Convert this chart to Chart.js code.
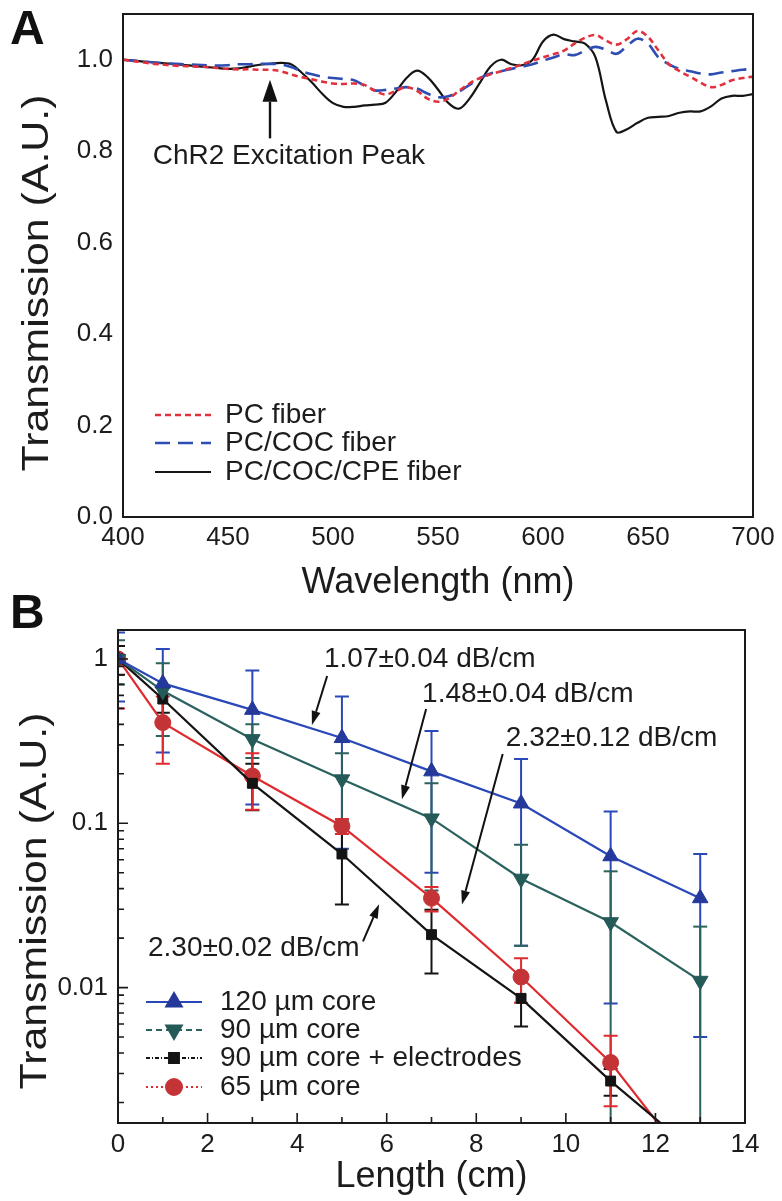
<!DOCTYPE html>
<html>
<head>
<meta charset="utf-8">
<script src="https://cdn.jsdelivr.net/npm/chart.js@4.4.1/dist/chart.umd.min.js"></script>
<style>
  html, body { margin:0; padding:0; background:#ffffff; width:782px; height:1201px; overflow:hidden; }
  canvas { position:absolute; left:0; }
  #cA { top:0; }
  #cB { top:590px; }
</style>
</head>
<body>
<canvas id="cA" width="782" height="620"></canvas>
<canvas id="cB" width="782" height="611"></canvas>
<script>
// ================= Panel A data =================
const wavelengthNm = [400,405,410,415,420,425,430,435,440,445,450,455,460,465,470,475,480,485,490,495,500,505,510,515,520,525,530,535,540,545,550,555,560,565,570,575,580,585,590,595,600,605,610,615,620,625,630,635,640,645,650,655,660,665,670,675,680,685,690,695,700];
const pcFiber = [1.000,0.997,0.994,0.991,0.989,0.987,0.986,0.985,0.984,0.982,0.980,
  0.979,0.979,0.978,0.978,0.975,0.968,0.962,0.957,0.952,0.948,
  0.947,0.948,0.945,0.932,0.924,0.932,0.940,0.932,0.915,0.908,
  0.915,0.932,0.948,0.960,0.968,0.975,0.982,0.990,0.998,1.005,
  1.012,1.020,1.035,1.048,1.054,1.042,1.033,1.045,1.063,1.050,
  1.020,0.990,0.975,0.963,0.950,0.940,0.945,0.955,0.960,0.963];
const pcCocFiber = [1.000,0.998,0.996,0.994,0.992,0.991,0.990,0.989,0.988,0.987,0.988,
  0.990,0.990,0.991,0.991,0.990,0.984,0.975,0.968,0.963,0.960,
  0.958,0.955,0.943,0.933,0.934,0.937,0.940,0.937,0.926,0.918,
  0.920,0.930,0.945,0.960,0.970,0.975,0.980,0.985,0.990,0.998,
  1.005,1.012,1.010,1.020,1.028,1.022,1.013,1.030,1.046,1.035,
  1.005,0.990,0.980,0.975,0.970,0.968,0.972,0.975,0.978,0.980];
const pcCocCpeFiber = [1.000,0.998,0.996,0.994,0.992,0.990,0.988,0.986,0.984,0.982,0.980,
  0.981,0.985,0.989,0.991,0.993,0.990,0.972,0.950,0.925,0.905,
  0.897,0.897,0.900,0.902,0.906,0.930,0.960,0.976,0.962,0.935,
  0.905,0.893,0.915,0.950,0.985,1.000,0.990,0.988,1.000,1.040,
  1.055,1.045,1.040,1.035,1.005,0.910,0.842,0.848,0.862,0.873,
  0.875,0.877,0.884,0.887,0.887,0.898,0.915,0.921,0.921,0.925];
const seriesNamesA = ['PC fiber','PC/COC fiber','PC/COC/CPE fiber'];
const xTicksA = [400,450,500,550,600,650,700];
const yTicksA = [0,0.2,0.4,0.6,0.8,1.0];
const yTickLabelsA = ['0.0','0.2','0.4','0.6','0.8','1.0'];
const peakText = 'ChR2 Excitation Peak';

// ================= Panel B data =================
const lengthCm = [0,1,3,5,7,9,11,13];
const core120 = [1.0,0.71,0.49,0.33,0.207,0.132,0.063,0.035];
const core120Err = [0.45,0.44,0.36,0.26,0.157,0.114,0.055,0.030];
const core90 = [1.0,0.64,0.325,0.185,0.107,0.046,0.025,0.011];
const core90Err = [0.3,0.3,0.075,0.082,0.068,0.028,0.026,0.0125];
const core90El = [1.0,0.57,0.175,0.065,0.021,0.0086,0.0027,0.00094];
const core90ElErr = [0.2,0.1,0.055,0.033,0.0088,0.0028,0.0005,0];
const core65 = [1.0,0.41,0.194,0.096,0.035,0.0116,0.0035,0.0007];
const core65Err = [0.5,0.18,0.073,0.01,0.006,0.0035,0.0016,0];
const seriesNamesB = ['120 µm core','90 µm core','90 µm core + electrodes','65 µm core'];
const xTicksB = [0,2,4,6,8,10,12,14];
const xMinorTicksB = [1,3,5,7,9,11,13];
const yTicksB = [0.01,0.1,1];
const yTickLabelsB = ['0.01','0.1','1'];
const slopeTexts = ['1.07±0.04 dB/cm','1.48±0.04 dB/cm','2.32±0.12 dB/cm','2.30±0.02 dB/cm'];
const yTitle = 'Transmission (A.U.)';

// ================= layout / style =================
const FONT = "'Liberation Sans', Arial, Helvetica, sans-serif";
const TXT = '#1c1c1c';
const C = {
  redA:'#e2313d', blueA:'#2d4db3', blackA:'#151515',
  blue:'#2a48b8', blueMk:'#24399a', teal:'#2b625d', tealMk:'#245a57',
  black:'#141414', red:'#df2b2f', redMk:'#c43437'
};
// annotation anchors in data coordinates
const peakArrow = {x:470, from:0.828, to:0.956};
const peakLabelAt = {x:479, y:0.788};
const slopeLabelAt = [[4.6,1.0],[6.79,0.612],[8.66,0.33],[0.67,0.0173]];
const slopeArrowFrom = [[4.67,0.788],[6.88,0.496],[8.59,0.264],[5.47,0.0191]];
const slopeArrowTo = [[4.33,0.396],[6.34,0.14],[7.68,0.032],[5.83,0.0321]];

function drawArrow(ctx, x0, y0, x1, y1, headLen, headW, lw) {
  const ang = Math.atan2(y1 - y0, x1 - x0);
  const bx = x1 - headLen * Math.cos(ang), by = y1 - headLen * Math.sin(ang);
  ctx.lineWidth = lw;
  ctx.beginPath(); ctx.moveTo(x0, y0); ctx.lineTo(bx, by); ctx.stroke();
  ctx.beginPath(); ctx.moveTo(x1, y1);
  ctx.lineTo(bx + headW / 2 * Math.sin(ang), by - headW / 2 * Math.cos(ang));
  ctx.lineTo(bx - headW / 2 * Math.sin(ang), by + headW / 2 * Math.cos(ang));
  ctx.closePath(); ctx.fill();
}
function drawYTitle(ctx, cx, cy) {
  ctx.save();
  ctx.translate(cx, cy); ctx.rotate(-Math.PI / 2); ctx.scale(1.19, 1);
  ctx.font = '36px ' + FONT; ctx.fillStyle = TXT; ctx.textAlign = 'center'; ctx.textBaseline = 'middle';
  ctx.fillText(yTitle, 0, 0);
  ctx.restore();
}
function noPad(s) { s.paddingTop = 0; s.paddingBottom = 0; s.paddingLeft = 0; s.paddingRight = 0; }

// ================= Chart A =================
const decoA = {
  id: 'decoA',
  afterDraw(chart) {
    const {ctx, chartArea: a, scales: {x, y}} = chart;
    ctx.save();
    ctx.strokeStyle = '#1a1a1a'; ctx.lineWidth = 2;
    ctx.strokeRect(a.left, a.top, a.right - a.left, a.bottom - a.top);
    // arrow + label
    ctx.strokeStyle = '#111'; ctx.fillStyle = '#111';
    const ax = x.getPixelForValue(peakArrow.x);
    drawArrow(ctx, ax, y.getPixelForValue(peakArrow.from), ax, y.getPixelForValue(peakArrow.to), 22, 15, 2.4);
    ctx.fillStyle = TXT; ctx.font = '28px ' + FONT; ctx.textAlign = 'center'; ctx.textBaseline = 'middle';
    ctx.fillText(peakText, x.getPixelForValue(peakLabelAt.x), y.getPixelForValue(peakLabelAt.y));
    // legend
    const rows = [a.bottom - 102, a.bottom - 74, a.bottom - 45];
    chart.data.datasets.forEach((ds, i) => {
      ctx.strokeStyle = ds.borderColor; ctx.lineWidth = ds.borderWidth;
      ctx.setLineDash(ds.borderDash || []);
      ctx.beginPath(); ctx.moveTo(a.left + 32, rows[i]); ctx.lineTo(a.left + 88, rows[i]); ctx.stroke();
      ctx.setLineDash([]);
      ctx.fillStyle = TXT; ctx.textAlign = 'left'; ctx.font = '28px ' + FONT;
      ctx.fillText(ds.label, a.left + 102, rows[i]);
    });
    drawYTitle(ctx, 38, 283);
    // panel letter
    ctx.font = 'bold 48px ' + FONT; ctx.textAlign = 'left'; ctx.textBaseline = 'alphabetic';
    ctx.fillStyle = '#111';
    ctx.fillText('A', 10, 44);
    ctx.restore();
  }
};

new Chart(document.getElementById('cA'), {
  type: 'line',
  data: { datasets: [
    {label: seriesNamesA[0], data: wavelengthNm.map((w, i) => ({x: w, y: pcFiber[i]})), borderColor: C.redA, borderWidth: 2.6, borderDash: [6, 4], pointRadius: 0, tension: 0.35, fill: false},
    {label: seriesNamesA[1], data: wavelengthNm.map((w, i) => ({x: w, y: pcCocFiber[i]})), borderColor: C.blueA, borderWidth: 2.6, borderDash: [15, 8], pointRadius: 0, tension: 0.35, fill: false},
    {label: seriesNamesA[2], data: wavelengthNm.map((w, i) => ({x: w, y: pcCocCpeFiber[i]})), borderColor: C.blackA, borderWidth: 2.2, pointRadius: 0, tension: 0.35, fill: false}
  ]},
  options: {
    responsive: false, animation: false, devicePixelRatio: 1,
    layout: {padding: {top: 14, right: 29, left: 0, bottom: 0}},
    plugins: {legend: {display: false}, tooltip: {enabled: false}},
    scales: {
      x: {type: 'linear', min: 400, max: 700,
        grid: {display: false, drawTicks: false}, border: {display: false},
        afterBuildTicks: s => { s.ticks = xTicksA.map(v => ({value: v})); },
        afterFit: s => { s.height = 103; noPad(s); },
        ticks: {font: {family: FONT, size: 26}, color: TXT, padding: 5, maxRotation: 0, autoSkip: false, callback: v => String(v)},
        title: {display: true, text: 'Wavelength (nm)', font: {family: FONT, size: 36}, color: TXT, padding: {top: 0, bottom: 15}}
      },
      y: {type: 'linear', min: 0, max: 1.1,
        grid: {display: false, drawTicks: false}, border: {display: false},
        afterBuildTicks: s => { s.ticks = yTicksA.map(v => ({value: v})); },
        afterFit: s => { s.width = 123; noPad(s); },
        ticks: {font: {family: FONT, size: 26}, color: TXT, padding: 10, autoSkip: false, callback: (v, i) => yTickLabelsA[i]},
        title: {display: false}
      }
    }
  },
  plugins: [decoA]
});

// ================= Chart B =================
const decoB = {
  id: 'decoB',
  beforeDatasetsDraw(chart) {
    const {ctx, chartArea: a, scales: {y}} = chart;
    ctx.save();
    ctx.beginPath(); ctx.rect(a.left, a.top, a.right - a.left, a.bottom - a.top); ctx.clip();
    chart.data.datasets.forEach((ds, i) => {
      const meta = chart.getDatasetMeta(i);
      ctx.strokeStyle = ds.errColor; ctx.lineWidth = 2;
      ds.errors.forEach((e, j) => {
        if (!e) return;
        const v = ds.data[j].y;
        const px = meta.data[j].x;
        const yTop = y.getPixelForValue(v + e);
        const yBot = (v - e) > 0 ? y.getPixelForValue(v - e) : a.bottom + 5;
        ctx.beginPath(); ctx.moveTo(px, yTop); ctx.lineTo(px, yBot); ctx.stroke();
        ctx.beginPath(); ctx.moveTo(px - 7, yTop); ctx.lineTo(px + 7, yTop);
        if ((v - e) > 0) { ctx.moveTo(px - 7, yBot); ctx.lineTo(px + 7, yBot); }
        ctx.stroke();
      });
    });
    ctx.restore();
  },
  afterDraw(chart) {
    const {ctx, chartArea: a, scales: {x, y}} = chart;
    ctx.save();
    // frame
    ctx.strokeStyle = '#1a1a1a'; ctx.lineWidth = 2;
    ctx.strokeRect(a.left, a.top, a.right - a.left, a.bottom - a.top);
    // inward ticks
    ctx.lineWidth = 1.6;
    ctx.beginPath();
    xTicksB.forEach(v => { const p = x.getPixelForValue(v); ctx.moveTo(p, a.bottom); ctx.lineTo(p, a.bottom - 10); });
    xMinorTicksB.forEach(v => { const p = x.getPixelForValue(v); ctx.moveTo(p, a.bottom); ctx.lineTo(p, a.bottom - 6); });
    yTicksB.forEach(v => { const p = y.getPixelForValue(v); ctx.moveTo(a.left, p); ctx.lineTo(a.left + 10, p); });
    [0.001, 0.01, 0.1].forEach(d => {
      for (let k = 2; k <= 9; k++) {
        const v = d * k;
        if (v < y.min || v > y.max) continue;
        const p = y.getPixelForValue(v); ctx.moveTo(a.left, p); ctx.lineTo(a.left + 6, p);
      }
    });
    ctx.stroke();
    // slope annotations
    ctx.strokeStyle = '#111'; ctx.fillStyle = '#111';
    slopeTexts.forEach((t, i) => {
      drawArrow(ctx, x.getPixelForValue(slopeArrowFrom[i][0]), y.getPixelForValue(slopeArrowFrom[i][1]),
        x.getPixelForValue(slopeArrowTo[i][0]), y.getPixelForValue(slopeArrowTo[i][1]), 14, 9, 2);
    });
    ctx.fillStyle = TXT; ctx.font = '28px ' + FONT; ctx.textAlign = 'left'; ctx.textBaseline = 'middle';
    slopeTexts.forEach((t, i) => {
      ctx.fillText(t, x.getPixelForValue(slopeLabelAt[i][0]), y.getPixelForValue(slopeLabelAt[i][1]));
    });
    // legend
    const rows = [a.bottom - 121, a.bottom - 93, a.bottom - 65, a.bottom - 36];
    chart.data.datasets.forEach((ds, i) => {
      ctx.strokeStyle = ds.borderColor; ctx.lineWidth = 2;
      ctx.setLineDash(ds.legendDash);
      ctx.beginPath(); ctx.moveTo(a.left + 28, rows[i]); ctx.lineTo(a.left + 84, rows[i]); ctx.stroke();
      ctx.setLineDash([]);
      ctx.fillStyle = ds.pointBackgroundColor; ctx.strokeStyle = ds.pointBorderColor;
      Chart.helpers.drawPoint(ctx, {pointStyle: ds.pointStyle, rotation: ds.pointRotation || 0, radius: ds.pointRadius, borderWidth: 1}, a.left + 56, rows[i]);
      ctx.fillStyle = TXT; ctx.textAlign = 'left'; ctx.textBaseline = 'middle'; ctx.font = '28px ' + FONT;
      ctx.fillText(ds.label, a.left + 102, rows[i]);
    });
    drawYTitle(ctx, 36, 311);
    // panel letter
    ctx.font = 'bold 48px ' + FONT; ctx.textAlign = 'left'; ctx.textBaseline = 'alphabetic'; ctx.fillStyle = '#111';
    ctx.fillText('B', 10, 38);
    ctx.restore();
  }
};

function ptsB(vals) { return lengthCm.map((l, i) => ({x: l, y: vals[i]})); }

new Chart(document.getElementById('cB'), {
  type: 'line',
  data: { datasets: [
    {label: seriesNamesB[0], data: ptsB(core120), errors: core120Err, errColor: C.blue, legendDash: [],
      borderColor: C.blue, borderWidth: 2.2, pointStyle: 'triangle', pointRadius: 9,
      pointBackgroundColor: C.blueMk, pointBorderColor: C.blueMk, pointBorderWidth: 1, tension: 0},
    {label: seriesNamesB[1], data: ptsB(core90), errors: core90Err, errColor: C.teal, legendDash: [6, 4],
      borderColor: C.teal, borderWidth: 2.2, pointStyle: 'triangle', pointRotation: 180, pointRadius: 9,
      pointBackgroundColor: C.tealMk, pointBorderColor: C.tealMk, pointBorderWidth: 1, tension: 0},
    {label: seriesNamesB[2], data: ptsB(core90El), errors: core90ElErr, errColor: C.black, legendDash: [4, 2, 1, 2],
      borderColor: C.black, borderWidth: 2.2, pointStyle: 'rect', pointRadius: 7,
      pointBackgroundColor: C.black, pointBorderColor: C.black, pointBorderWidth: 1, tension: 0},
    {label: seriesNamesB[3], data: ptsB(core65), errors: core65Err, errColor: C.red, legendDash: [2, 3],
      borderColor: C.red, borderWidth: 2.2, pointStyle: 'circle', pointRadius: 8,
      pointBackgroundColor: C.redMk, pointBorderColor: C.redMk, pointBorderWidth: 1, tension: 0}
  ]},
  options: {
    responsive: false, animation: false, devicePixelRatio: 1,
    layout: {padding: {top: 40, right: 37, left: 0, bottom: 0}},
    plugins: {legend: {display: false}, tooltip: {enabled: false}},
    scales: {
      x: {type: 'linear', min: 0, max: 14,
        grid: {display: false, drawTicks: false}, border: {display: false},
        afterBuildTicks: s => { s.ticks = xTicksB.map(v => ({value: v})); },
        afterFit: s => { s.height = 78; noPad(s); },
        ticks: {font: {family: FONT, size: 26}, color: TXT, padding: 6, maxRotation: 0, autoSkip: false, callback: v => String(v)},
        title: {display: true, text: 'Length (cm)', font: {family: FONT, size: 36}, color: TXT, padding: {top: 0, bottom: 2}}
      },
      y: {type: 'logarithmic', min: 0.0015, max: 1.5,
        grid: {display: false, drawTicks: false}, border: {display: false},
        afterBuildTicks: s => { s.ticks = yTicksB.map(v => ({value: v})); },
        afterFit: s => { s.width = 118; noPad(s); },
        ticks: {font: {family: FONT, size: 26}, color: TXT, padding: 10, autoSkip: false, callback: (v, i) => yTickLabelsB[i]},
        title: {display: false}
      }
    }
  },
  plugins: [decoB]
});
</script>
</body>
</html>
